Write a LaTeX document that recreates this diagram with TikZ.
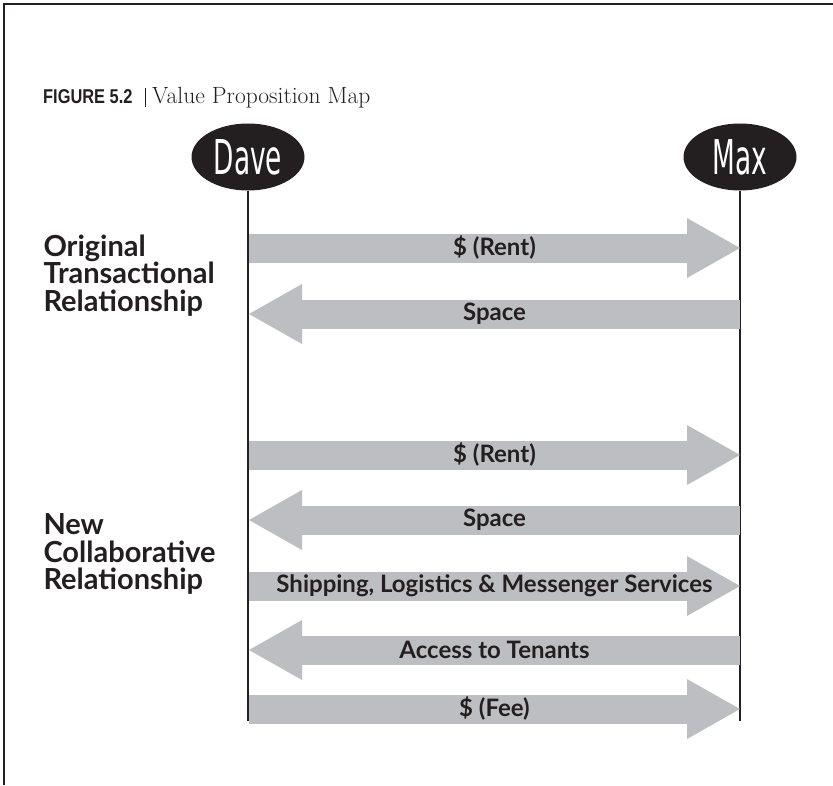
\documentclass[tikz,border=0pt]{standalone}
\usepackage{fontspec}
\newfontfamily\labelfont{Lato}
\newfontfamily\namefont[FakeStretch=0.55]{DejaVu Sans}
\newfontfamily\figfont[FakeStretch=0.82]{Liberation Sans}
\usetikzlibrary{arrows.meta, shapes.geometric, positioning}
\definecolor{arrowgray}{RGB}{189,190,194}
\definecolor{ink}{RGB}{35,31,32}

\begin{document}
\begin{tikzpicture}[x=1pt, y=-1pt,
  person/.style={ellipse, fill=ink, minimum width=113pt, minimum height=67pt,
    inner sep=0pt, text=white, font=\namefont\fontsize{48}{48}\selectfont},
  lifeline/.style={draw=ink, line width=1.6pt},
  flow/.style={draw=arrowgray, line width=29pt,
    -{Triangle[width=60pt, length=53pt, line width=0pt]}},
  flowtext/.style={text=ink, font=\labelfont\bfseries\fontsize{24}{24}\selectfont},
  phase/.style={anchor=north west, align=left, text=ink,
    font=\labelfont\bfseries\fontsize{29}{27.5}\selectfont}]
\useasboundingbox (0,0) rectangle (833,785);

% Rahmen
\draw[ink, line width=2pt] (4,785) -- (4,4) -- (833,4);

% Titel
\node[anchor=base west, inner sep=0pt, text=ink] (fig) at (43,103)
  {\figfont\bfseries\fontsize{20}{20}\selectfont FIGURE 5.2};
\node[anchor=base west, inner sep=0pt, text=ink] (title) at (152,103)
  {\fontsize{23.5}{23.5}\selectfont Value Proposition Map};
\draw[ink, line width=1pt] (145,88) -- (145,107);

% Personen
\node[person] (dave) at (248,157) {Dave};
\node[person] (max) at (740,157) {Max};
\coordinate (daveEnd) at (248,721);
\coordinate (maxEnd) at (740,721);
\draw[lifeline] (dave) -- (daveEnd);
\draw[lifeline] (max) -- (maxEnd);

% Phasen
\node[phase] (orig) at (40,231) {Original\\Transactional\\Relationship};
\node[phase] (new) at (40,510) {New\\Collaborative\\Relationship};

% Punkte auf den Lebenslinien
\coordinate (d1) at (249,248); \coordinate (m1) at (740,248);
\coordinate (d2) at (249,314); \coordinate (m2) at (740,314);
\coordinate (d3) at (249,455); \coordinate (m3) at (740,455);
\coordinate (d4) at (249,520); \coordinate (m4) at (740,520);
\coordinate (d5) at (249,586); \coordinate (m5) at (740,586);
\coordinate (d6) at (249,650); \coordinate (m6) at (740,650);
\coordinate (d7) at (249,709); \coordinate (m7) at (740,709);

% Leistungen
\draw[flow] (d1) -- (m1) node[midway, flowtext] {\$ (Rent)};
\draw[flow] (m2) -- (d2) node[midway, flowtext] {Space};
\draw[flow] (d3) -- (m3) node[midway, flowtext] {\$ (Rent)};
\draw[flow] (m4) -- (d4) node[midway, flowtext] {Space};
\draw[flow] (d5) -- (m5) node[midway, flowtext] {Shipping, Logistics \& Messenger Services};
\draw[flow] (m6) -- (d6) node[midway, flowtext] {Access to Tenants};
\draw[flow] (d7) -- (m7) node[midway, flowtext] {\$ (Fee)};
\end{tikzpicture}
\end{document}
